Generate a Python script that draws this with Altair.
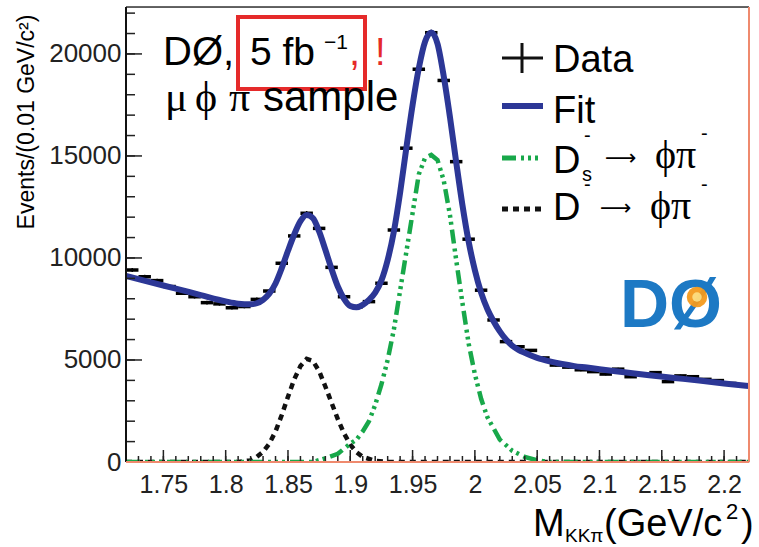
import altair as alt
import pandas as pd

# ---------------- data ----------------
mass = [1.725, 1.735, 1.745, 1.755, 1.765, 1.775, 1.785, 1.795, 1.805, 1.815,
        1.825, 1.835, 1.845, 1.855, 1.865, 1.875, 1.885, 1.895, 1.905, 1.915,
        1.925, 1.935, 1.945, 1.955, 1.965, 1.975, 1.985, 1.995, 2.005, 2.015,
        2.025, 2.035, 2.045, 2.055, 2.065, 2.075, 2.085, 2.095, 2.105, 2.115,
        2.125, 2.135, 2.145, 2.155, 2.165, 2.175, 2.185, 2.195, 2.205, 2.215]
events = [9410, 9080, 8890, 8600, 8270, 8100, 7810, 7750, 7560, 7620,
          7970, 8380, 9740, 11080, 12190, 11450, 9540, 8100, 7600, 7860,
          8760, 11370, 15380, 19250, 21040, 18700, 14720, 10920, 8420, 6960,
          5900, 5650, 5470, 5100, 4750, 4650, 4520, 4430, 4310, 4550,
          4180, 4300, 4380, 3940, 4220, 4180, 4050, 3990, 3850, 3775]

fit_m = [1.72, 1.74, 1.76, 1.78, 1.80, 1.81, 1.82, 1.825, 1.83, 1.835, 1.84,
         1.845, 1.85, 1.855, 1.86, 1.865, 1.87, 1.875, 1.88, 1.885, 1.89,
         1.895, 1.90, 1.905, 1.91, 1.915, 1.92, 1.925, 1.93, 1.935, 1.94,
         1.945, 1.95, 1.955, 1.96, 1.965, 1.97, 1.975, 1.98, 1.985, 1.99,
         1.995, 2.00, 2.005, 2.01, 2.015, 2.02, 2.025, 2.03, 2.035, 2.04,
         2.05, 2.06, 2.07, 2.08, 2.09, 2.10, 2.12, 2.14, 2.16, 2.18, 2.20, 2.22]
fit_v = [9120, 8800, 8500, 8180, 7870, 7760, 7730, 7780, 7950, 8250, 8750,
         9500, 10350, 11150, 11800, 12100, 11950, 11300, 10400, 9450, 8600,
         8000, 7650, 7580, 7700, 7950, 8300, 8900, 9900, 11300, 13200,
         15400, 17500, 19300, 20600, 21050, 20500, 18900, 16900, 14700, 12600,
         10800, 9400, 8300, 7500, 6900, 6400, 6000, 5700, 5500, 5350,
         5100, 4930, 4800, 4700, 4630, 4550, 4400, 4250, 4120, 3990, 3850, 3720]

ds_m = [1.72, 1.87, 1.88, 1.89, 1.90, 1.905, 1.91, 1.915, 1.92, 1.925, 1.93,
        1.935, 1.94, 1.945, 1.95, 1.955, 1.96, 1.965, 1.97, 1.975, 1.98,
        1.985, 1.99, 1.995, 2.00, 2.005, 2.01, 2.02, 2.03, 2.04, 2.05, 2.06, 2.22]
ds_v = [0, 0, 180, 400, 900, 1100, 1500, 2000, 2800, 3800, 5000,
        6500, 8400, 10300, 12200, 14100, 14900, 15050, 14800, 13800, 12100,
        9900, 7800, 5800, 4300, 3100, 2200, 1100, 550, 250, 80, 0, 0]

dm_m = [1.72, 1.81, 1.82, 1.825, 1.83, 1.835, 1.84, 1.845, 1.85, 1.855, 1.86,
        1.865, 1.87, 1.875, 1.88, 1.885, 1.89, 1.895, 1.90, 1.905, 1.91,
        1.92, 1.93, 2.22]
dm_v = [0, 0, 80, 250, 500, 900, 1500, 2300, 3200, 4050, 4700,
        5050, 4950, 4450, 3700, 2900, 2100, 1400, 850, 480, 250,
        60, 0, 0]

x_major = [1.75, 1.8, 1.85, 1.9, 1.95, 2.0, 2.05, 2.1, 2.15, 2.2]
x_minor = [round(1.72 + 0.01 * i, 2) for i in range(51)]
y_major = [0, 5000, 10000, 15000, 20000]
y_minor = [1000 * i for i in range(23)]

# ---------------- style ----------------
W, H = 623, 455
SANS = "Liberation Sans"
SERIF = "Liberation Serif"
BLUE = "#2c3796"
GREEN = "#18a84a"
RED = "#e52a2a"
SALMON = "#ef8a6e"

xs = alt.Scale(domain=[1.72, 2.22], nice=False, zero=False)
ys = alt.Scale(domain=[0, 22300], nice=False, zero=False)
xaxis = alt.Axis(values=x_major, format="~g", title=None, ticks=False, tickSize=0,
                 domain=False, grid=False, labelFontSize=25, labelFont=SANS,
                 labelColor="#222", labelPadding=10, labelFlush=False,
                 labelOverlap=False)
yaxis = alt.Axis(values=y_major, format="d", title=None, ticks=False, tickSize=0,
                 domain=False, grid=False, labelFontSize=26, labelFont=SANS,
                 labelColor="#222", labelPadding=5, labelOverlap=False)


def X(f):
    return alt.X(f, scale=xs, axis=xaxis)


def Y(f):
    return alt.Y(f, scale=ys, axis=yaxis)


one = pd.DataFrame({"t": [""]})

df_data = pd.DataFrame({"m": mass, "v": events})
df_fit = pd.DataFrame({"m": fit_m, "v": fit_v})
df_ds = pd.DataFrame({"m": ds_m, "v": ds_v})
df_dm = pd.DataFrame({"m": dm_m, "v": dm_v})

data_h = alt.Chart(df_data).transform_calculate(
    lo="datum.m - 0.005", hi="datum.m + 0.005"
).mark_rule(color="black", strokeWidth=3.5, clip=True).encode(
    x=X("lo:Q"), x2="hi:Q", y=Y("v:Q"))

data_v = alt.Chart(df_data).transform_calculate(
    ylo="datum.v - sqrt(datum.v)", yhi="datum.v + sqrt(datum.v)"
).mark_rule(color="black", strokeWidth=1.5, clip=True).encode(
    x=X("m:Q"), y=Y("ylo:Q"), y2="yhi:Q")

dm_line = alt.Chart(df_dm).mark_line(
    color="#111", strokeWidth=4.5, strokeDash=[6, 5], clip=True
).encode(x=X("m:Q"), y=Y("v:Q"))

ds_line = alt.Chart(df_ds).mark_line(
    color=GREEN, strokeWidth=4.5, strokeDash=[14, 5, 3, 4, 3, 4, 3, 5], clip=True
).encode(x=X("m:Q"), y=Y("v:Q"))

fit_line = alt.Chart(df_fit).mark_line(
    color=BLUE, strokeWidth=6, clip=True, interpolate="monotone"
).encode(x=X("m:Q"), y=Y("v:Q"))

# inside ticks (ROOT style)
xt_major = alt.Chart(pd.DataFrame({"m": x_major})).mark_rule(color="#222", strokeWidth=1.5).encode(
    x=X("m:Q"), y=alt.value(H), y2=alt.value(H - 12))
xt_minor = alt.Chart(pd.DataFrame({"m": x_minor})).mark_rule(color="#222", strokeWidth=1.5).encode(
    x=X("m:Q"), y=alt.value(H), y2=alt.value(H - 6))
yt_major = alt.Chart(pd.DataFrame({"v": y_major})).mark_rule(color="#222", strokeWidth=1.5).encode(
    y=Y("v:Q"), x=alt.value(0), x2=alt.value(16))
yt_minor = alt.Chart(pd.DataFrame({"v": y_minor})).mark_rule(color="#222", strokeWidth=1.5).encode(
    y=Y("v:Q"), x=alt.value(0), x2=alt.value(9))


def rule(x1, y1, x2, y2, color, width, dash=None):
    kw = dict(color=color, strokeWidth=width)
    if dash:
        kw["strokeDash"] = dash
    return alt.Chart(one).mark_rule(**kw).encode(
        x=alt.value(x1), y=alt.value(y1), x2=alt.value(x2), y2=alt.value(y2))


def txt(s, x, y, size, color="black", font=SANS, align="left",
        baseline="alphabetic", angle=0, weight="normal"):
    return alt.Chart(pd.DataFrame({"t": [s]})).mark_text(
        align=align, baseline=baseline, fontSize=size, font=font, color=color,
        angle=angle, fontWeight=weight).encode(
        x=alt.value(x), y=alt.value(y), text="t:N")


frame = [
    rule(0, 0, W, 0, "#333", 1.5),
    rule(0, 0, 0, H, "#111", 2),
    rule(W, 0, W, H, SALMON, 2),
    rule(0, H, W, H, SALMON, 2),
]

# annotation box
box = alt.Chart(one).mark_rect(fillOpacity=0, stroke=RED, strokeWidth=4).encode(
    x=alt.value(112), x2=alt.value(239), y=alt.value(10), y2=alt.value(82))

texts = [
    txt("DØ,", 37, 58, 40),
    txt("5 fb", 124, 58, 39),
    txt("−1", 198, 42, 21),
    txt(",", 223, 58, 40, color=RED),
    txt("!", 249, 58, 38, color=RED),
    txt("μ", 39, 104, 42, font=SERIF),
    txt("ϕ", 69, 104, 42, font=SERIF),
    txt("π", 103, 104, 42, font=SERIF),
    txt("sample", 137, 104, 42),
    # legend
    txt("Data", 427, 65, 38),
    txt("Fit", 427, 116, 38),
    txt("D", 427, 166, 38),
    txt("s", 456, 174, 20),
    txt("-", 458, 135, 20),
    txt("⟶", 479, 151, 22, font="DejaVu Sans", baseline="middle"),
    txt("ϕπ", 529, 161, 40, font=SERIF),
    txt("-", 575, 133, 20),
    txt("D", 427, 213, 38),
    txt("-", 458, 184, 20),
    txt("⟶", 474, 201, 22, font="DejaVu Sans", baseline="middle"),
    txt("ϕπ", 524, 212, 40, font=SERIF),
    txt("-", 575, 184, 20),
    # axis titles
    txt("Events/(0.01 GeV/c²)", -99, 115, 23, align="center", baseline="middle", angle=270),
    txt("M", 407, 529, 38),
    txt("KKπ", 439, 535, 19),
    txt("(GeV/c", 478, 529, 38),
    txt("2", 600, 512, 22),
    txt(")", 615, 529, 38),
    # logo
    txt("DØ", 494, 320, 68, color="#1d79c4", weight="bold"),
]

legend_syms = [
    rule(376, 51, 417, 51, "#111", 3),
    rule(396, 36, 396, 66, "#111", 3),
    rule(376, 99, 417, 99, BLUE, 6),
    rule(376, 151, 417, 151, GREEN, 5, [14, 5, 3, 4, 3, 4, 3, 5]),
    rule(376, 202, 417, 202, "#111", 5, [6, 5]),
]

glow = alt.Chart(one).mark_point(filled=True, color="#f39a1e", size=420, opacity=0.95).encode(
    x=alt.value(571), y=alt.value(290))
glow2 = alt.Chart(one).mark_point(filled=True, color="#fff3a0", size=90).encode(
    x=alt.value(571), y=alt.value(290))

chart = alt.layer(
    data_v, data_h, dm_line, ds_line, fit_line,
    xt_major, xt_minor, yt_major, yt_minor,
    *frame, box, *legend_syms, *texts, glow, glow2
).properties(
    width=W, height=H,
    autosize=alt.AutoSizeParams(type="none"),
    padding={"left": 126, "top": 7, "right": 10, "bottom": 85},
).configure_view(stroke=None).configure(background="white")

chart.save("out.html", embed_options={"renderer": "svg", "actions": False})
